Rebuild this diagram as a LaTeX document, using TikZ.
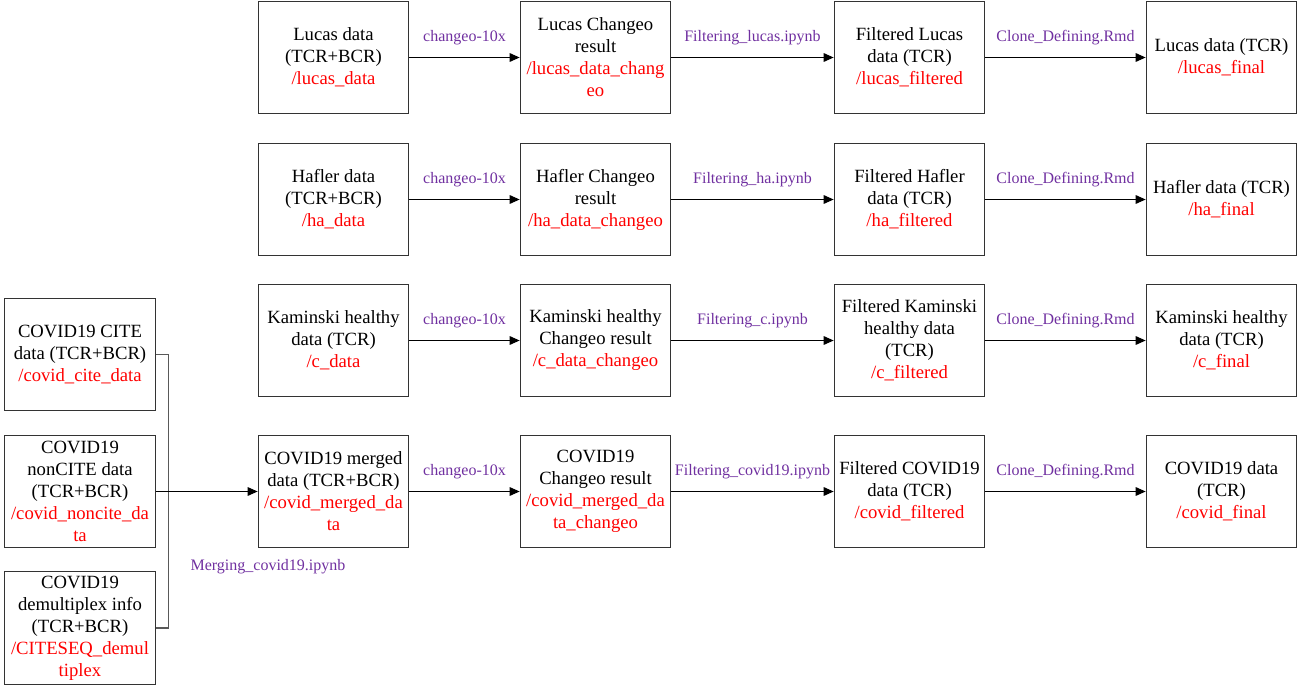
\documentclass[tikz,border=0pt]{standalone}
\usepackage{fontspec}
\setmainfont{Liberation Serif}
\usetikzlibrary{arrows.meta}
\definecolor{pathred}{RGB}{255,0,0}
\definecolor{toolpurple}{RGB}{112,48,160}
\newcommand{\dpath}[1]{\textcolor{pathred}{#1}}

\begin{document}
\begin{tikzpicture}[x=0.75pt,y=-0.75pt,
    box/.style={draw=black!80,line width=0.8pt,minimum width=113pt,minimum height=84.5pt,
      align=center,inner sep=1pt,font=\fontsize{14}{16.5}\selectfont},
    tool/.style={text=toolpurple,font=\fontsize{12}{14}\selectfont,yshift=15pt}]

      \useasboundingbox (0,0) rectangle (1302,692);

      \begin{scope}[every node/.style={box}]
        % inputs of the covid row
        \node (cite) at (80,354.5) {COVID19 CITE\\data (TCR+BCR)\\\dpath{/covid\_cite\_data}};
        \node (noncite) at (80,491.5) {COVID19\\nonCITE data\\(TCR+BCR)\\\dpath{/covid\_noncite\_da}\\\dpath{ta}};
        \node (demux) at (80,628) {COVID19\\demultiplex info\\(TCR+BCR)\\\dpath{/CITESEQ\_demul}\\\dpath{tiplex}};
        % raw data
        \node (lucas) at (333.5,57.5) {Lucas data\\(TCR+BCR)\\\dpath{/lucas\_data}};
        \node (ha) at (333.5,199.5) {Hafler data\\(TCR+BCR)\\\dpath{/ha\_data}};
        \node (c) at (333.5,340.5) {Kaminski healthy\\data (TCR)\\\dpath{/c\_data}};
        \node (covid) at (333.5,491.5) {COVID19 merged\\data (TCR+BCR)\\\dpath{/covid\_merged\_da}\\\dpath{ta}};
        % changeo results
        \node (lucasC) at (595.5,57.5) {Lucas Changeo\\result\\\dpath{/lucas\_data\_chang}\\\dpath{eo}};
        \node (haC) at (595.5,199.5) {Hafler Changeo\\result\\\dpath{/ha\_data\_changeo}};
        \node (cC) at (595.5,340.5) {Kaminski healthy\\Changeo result\\\dpath{/c\_data\_changeo}};
        \node (covidC) at (595.5,491.5) {COVID19\\Changeo result\\\dpath{/covid\_merged\_da}\\\dpath{ta\_changeo}};
        % filtered
        \node (lucasF) at (909.5,57.5) {Filtered Lucas\\data (TCR)\\\dpath{/lucas\_filtered}};
        \node (haF) at (909.5,199.5) {Filtered Hafler\\data (TCR)\\\dpath{/ha\_filtered}};
        \node (cF) at (909.5,340.5) {Filtered Kaminski\\healthy data\\(TCR)\\\dpath{/c\_filtered}};
        \node (covidF) at (909.5,491.5) {Filtered COVID19\\data (TCR)\\\dpath{/covid\_filtered}};
        % final
        \node (lucasT) at (1221.5,57.5) {Lucas data (TCR)\\\dpath{/lucas\_final}};
        \node (haT) at (1221.5,199.5) {Hafler data (TCR)\\\dpath{/ha\_final}};
        \node (cT) at (1221.5,340.5) {Kaminski healthy\\data (TCR)\\\dpath{/c\_final}};
        \node (covidT) at (1221.5,491.5) {COVID19 data\\(TCR)\\\dpath{/covid\_final}};
      \end{scope}

      % merging bracket
      \draw[black!65,line width=0.8pt] (cite.east) -- ++(13,0) |- (demux.east);
      \node[text=toolpurple,font=\fontsize{12}{14}\selectfont] (merge) at (268,567) {Merging\_covid19.ipynb};

      \begin{scope}[every node/.style={tool}]

        \begin{scope}[every edge/.style={draw,line width=0.8pt,-{Triangle[length=7.5pt,width=6.5pt]}}]
          \path (noncite) edge (covid);
          \path (lucas) edge node {changeo-10x} (lucasC);
          \path (ha) edge node {changeo-10x} (haC);
          \path (c) edge node {changeo-10x} (cC);
          \path (covid) edge node {changeo-10x} (covidC);
          \path (lucasC) edge node {Filtering\_lucas.ipynb} (lucasF);
          \path (haC) edge node {Filtering\_ha.ipynb} (haF);
          \path (cC) edge node {Filtering\_c.ipynb} (cF);
          \path (covidC) edge node {Filtering\_covid19.ipynb} (covidF);
          \path (lucasF) edge node {Clone\_Defining.Rmd} (lucasT);
          \path (haF) edge node {Clone\_Defining.Rmd} (haT);
          \path (cF) edge node {Clone\_Defining.Rmd} (cT);
          \path (covidF) edge node {Clone\_Defining.Rmd} (covidT);
        \end{scope}

      \end{scope}

    \end{tikzpicture}
\end{document}
